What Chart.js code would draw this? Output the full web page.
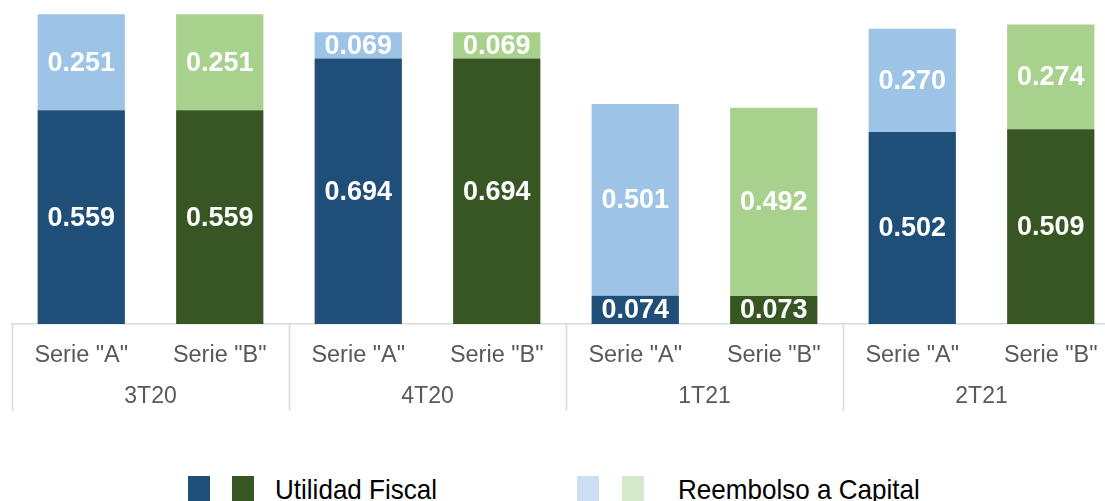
<!DOCTYPE html>
<html>
<head>
<meta charset="utf-8">
<script src="https://cdn.jsdelivr.net/npm/chart.js@4"></script>
<style>
  body { margin: 0; overflow: hidden; background: #fff; width: 1105px; height: 501px; position: relative; }
  #wrap { position: absolute; left: 0; top: 0; width: 1120px; height: 440px; }
  #legend { position: absolute; left: 0; top: 474px; width: 1105px; height: 30px; font-family: "Liberation Sans", Arial, sans-serif; font-size: 28px; color: #000; }
  .sw { position: absolute; top: 2px; width: 22px; height: 26px; }
  .lt { position: absolute; top: 0px; white-space: nowrap; line-height: 31px; transform: scaleX(0.93); transform-origin: left center; }
</style>
</head>
<body>
<div id="wrap"><canvas id="chart"></canvas></div>
<div id="legend">
  <div class="sw" style="left:188px;background:#1f4e79"></div>
  <div class="sw" style="left:232px;background:#375623"></div>
  <div class="lt" style="left:275px">Utilidad Fiscal</div>
  <div class="sw" style="left:577px;background:#cde0f2"></div>
  <div class="sw" style="left:622px;background:#d5e8cb"></div>
  <div class="lt" style="left:678px">Reembolso a Capital</div>
</div>
<script>
const series_labels = ['Serie "A"', 'Serie "B"', 'Serie "A"', 'Serie "B"', 'Serie "A"', 'Serie "B"', 'Serie "A"', 'Serie "B"'];
const quarters = ['3T20', '4T20', '1T21', '2T21'];
const utilidad_fiscal = [0.559, 0.559, 0.694, 0.694, 0.074, 0.073, 0.502, 0.509];
const reembolso_capital = [0.251, 0.251, 0.069, 0.069, 0.501, 0.492, 0.270, 0.274];

const dark_colors = ['#1f4e79', '#375623'];
const light_colors = ['#9dc3e6', '#a9d18e'];
const axis_text_color = '#595959';
const axis_line_color = '#d9d9d9';

const alternate = (pair) => series_labels.map((_, i) => pair[i % 2]);

// white numbers in the middle of every bar segment
const barValues = {
  id: 'barValues',
  afterDatasetsDraw(chart) {
    const ctx = chart.ctx;
    ctx.save();
    ctx.font = 'bold 27px "Liberation Sans", Arial, sans-serif';
    ctx.fillStyle = '#fff';
    ctx.textAlign = 'center';
    ctx.textBaseline = 'middle';
    chart.data.datasets.forEach((ds, di) => {
      chart.getDatasetMeta(di).data.forEach((bar, i) => {
        ctx.fillText(ds.data[i].toFixed(3), bar.x, (bar.y + bar.base) / 2 + 1);
      });
    });
    ctx.restore();
  }
};

// second row of the x axis: quarters with separators
const quarterAxis = {
  id: 'quarterAxis',
  afterDraw(chart) {
    const ctx = chart.ctx;
    const xs = chart.scales.x;
    const cw = (xs.right - xs.left) / series_labels.length;
    const top = chart.chartArea.bottom;
    ctx.save();
    ctx.strokeStyle = axis_line_color;
    ctx.lineWidth = 1.5;
    for (let g = 0; g <= quarters.length; g++) {
      const px = Math.round(xs.left + 2 * g * cw) + 0.5;
      ctx.beginPath();
      ctx.moveTo(px, top);
      ctx.lineTo(px, top + 87);
      ctx.stroke();
    }
    ctx.font = '23px "Liberation Sans", Arial, sans-serif';
    ctx.fillStyle = axis_text_color;
    ctx.textAlign = 'center';
    ctx.textBaseline = 'middle';
    quarters.forEach((q, g) => {
      ctx.fillText(q, xs.left + (2 * g + 1) * cw, top + 73);
    });
    ctx.restore();
  }
};

new Chart(document.getElementById('chart'), {
  type: 'bar',
  data: {
    labels: series_labels,
    datasets: [{
      label: 'Utilidad Fiscal',
      data: utilidad_fiscal,
      backgroundColor: alternate(dark_colors),
      borderWidth: 0
    }, {
      label: 'Reembolso a Capital',
      data: reembolso_capital,
      backgroundColor: alternate(light_colors),
      borderWidth: 0
    }]
  },
  plugins: [barValues, quarterAxis],
  options: {
    responsive: true,
    maintainAspectRatio: false,
    animation: false,
    barPercentage: 0.63,
    categoryPercentage: 1,
    layout: { padding: { left: 12, right: 0, top: 0, bottom: 0 } },
    plugins: {
      legend: { display: false },
      tooltip: { enabled: false }
    },
    scales: {
      x: {
        stacked: true,
        grid: { display: false, drawTicks: false },
        border: { display: true, color: axis_line_color, width: 1.5 },
        ticks: {
          color: axis_text_color,
          padding: 17,
          maxRotation: 0,
          autoSkip: false,
          font: { family: '"Liberation Sans", Arial, sans-serif', size: 23.5 }
        },
        afterFit: (scale) => { scale.height = 116; }
      },
      y: {
        stacked: true,
        display: false,
        min: 0,
        max: 0.847
      }
    }
  }
});
</script>
</body>
</html>
